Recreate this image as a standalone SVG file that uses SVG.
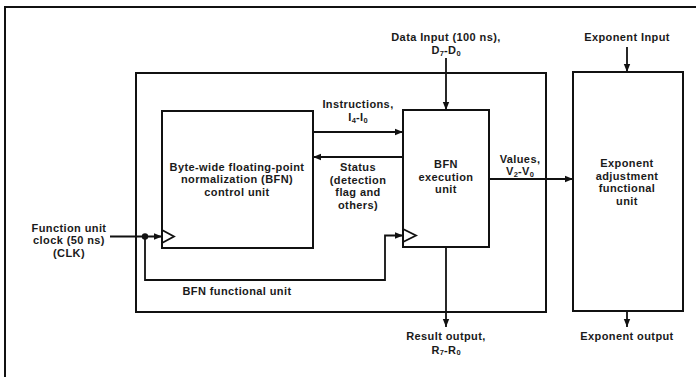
<svg xmlns="http://www.w3.org/2000/svg" width="696" height="377" viewBox="0 0 696 377">
<defs>
<marker id="arr" viewBox="0 0 10 10" refX="10" refY="5" markerWidth="8" markerHeight="8" markerUnits="userSpaceOnUse" orient="auto">
<path d="M0,1 L10,5 L0,9 Z" fill="#111"/>
</marker>
</defs>
<style>
.b{fill:none;stroke:#111;stroke-width:2}
.c{fill:none;stroke:#111;stroke-width:1.8}
.a{marker-end:url(#arr)}
text{font-family:"Liberation Sans",Arial,sans-serif;font-size:11px;font-weight:bold;letter-spacing:0.4px;fill:#1a1a1a;text-anchor:middle}
.s{font-size:7.5px;letter-spacing:0}
</style>
<rect width="696" height="377" fill="#fff"/>
<path class="b" d="M5,380 V7 H700"/>
<g id="bfn-functional-unit">
<rect class="b" x="136" y="73" width="410" height="239"/>
<text x="237" y="295">BFN functional unit</text>
</g>
<g id="control-unit">
<rect class="b" x="162" y="111" width="151" height="137"/>
<path class="c" d="M162,230 L174,236.5 L162,243"/>
<text x="237" y="170.5">Byte-wide floating-point</text>
<text x="237" y="183">normalization (BFN)</text>
<text x="237" y="195.5">control unit</text>
</g>
<g id="execution-unit">
<rect class="b" x="403" y="110" width="86" height="137"/>
<path class="c" d="M403,229 L416,235.5 L403,242"/>
<text x="446" y="168">BFN</text>
<text x="446" y="180.5">execution</text>
<text x="446" y="193">unit</text>
</g>
<g id="exponent-unit">
<rect class="b" x="573" y="72" width="110" height="239"/>
<text x="627" y="167">Exponent</text>
<text x="627" y="179.5">adjustment</text>
<text x="627" y="192">functional</text>
<text x="627" y="204.5">unit</text>
</g>
<g id="labels">
<text x="446" y="41">Data Input (100 ns),</text>
<text x="446" y="54">D<tspan class="s" dy="1.5">7</tspan><tspan dy="-1.5">-D</tspan><tspan class="s" dy="1.5">0</tspan></text>
<text x="627" y="41">Exponent Input</text>
<text x="358" y="108">Instructions,</text>
<text x="358" y="121">I<tspan class="s" dy="1.5">4</tspan><tspan dy="-1.5">-I</tspan><tspan class="s" dy="1.5">0</tspan></text>
<text x="358" y="171">Status</text>
<text x="358" y="183.5">(detection</text>
<text x="358" y="196">flag and</text>
<text x="358" y="208.5">others)</text>
<text x="520" y="162.5">Values,</text>
<text x="520" y="175">V<tspan class="s" dy="1.5">2</tspan><tspan dy="-1.5">-V</tspan><tspan class="s" dy="1.5">0</tspan></text>
<text x="69" y="231.5">Function unit</text>
<text x="69" y="244">clock (50 ns)</text>
<text x="69" y="256.5">(CLK)</text>
<text x="446" y="340">Result output,</text>
<text x="446" y="353.5">R<tspan class="s" dy="1.5">7</tspan><tspan dy="-1.5">-R</tspan><tspan class="s" dy="1.5">0</tspan></text>
<text x="627" y="340">Exponent output</text>
</g>
<g id="connectors">
<path class="c a" d="M446,58 V110"/>
<path class="c a" d="M627,47 V72"/>
<path class="c a" d="M313,132 H403"/>
<path class="c a" d="M403,157 H313"/>
<path class="c a" d="M489,179 H573"/>
<path class="c a" d="M446,247 V327"/>
<path class="c a" d="M627,311 V327"/>
<path class="c a" d="M110,236.5 H162"/>
<path class="c a" d="M145,236.5 V280 H385 V235.5 H403"/>
<circle cx="145" cy="236.5" r="3.2" fill="#111"/>
</g>
</svg>
